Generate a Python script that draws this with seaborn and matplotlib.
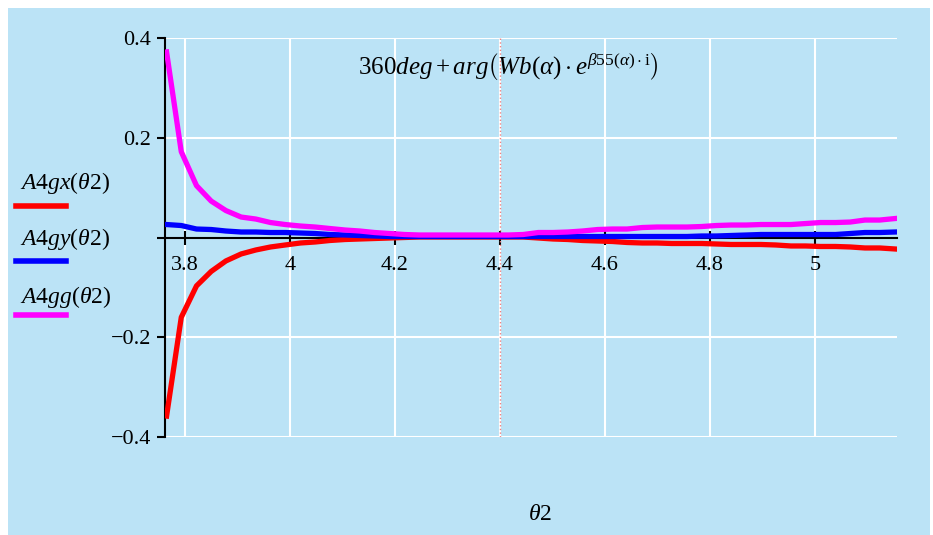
import numpy as np
import pandas as pd
import matplotlib.pyplot as plt
import seaborn as sns
from matplotlib.patches import Rectangle
from matplotlib.lines import Line2D

# theta2 sample points
theta2 = [3.765, 3.793, 3.822, 3.850, 3.878, 3.907, 3.935, 3.963, 3.991, 4.020,
          4.048, 4.076, 4.105, 4.133, 4.161, 4.190, 4.218, 4.246, 4.274, 4.303,
          4.331, 4.359, 4.388, 4.416, 4.444, 4.473, 4.501, 4.529, 4.557, 4.586,
          4.614, 4.642, 4.671, 4.699, 4.727, 4.756, 4.784, 4.812, 4.840, 4.869,
          4.897, 4.925, 4.954, 4.982, 5.010, 5.039, 5.067, 5.095, 5.123, 5.152]

a4gx = [-0.358, -0.160, -0.097, -0.068, -0.047, -0.033, -0.025, -0.019, -0.015, -0.011,
        -0.009, -0.006, -0.004, -0.003, -0.002, -0.001, 0.000, 0.001, 0.001, 0.001,
        0.001, 0.001, 0.001, 0.001, 0.001, -0.001, -0.003, -0.004, -0.006, -0.007,
        -0.008, -0.010, -0.011, -0.011, -0.012, -0.012, -0.012, -0.013, -0.014, -0.014,
        -0.014, -0.015, -0.017, -0.017, -0.018, -0.018, -0.019, -0.021, -0.021, -0.023]

a4gy = [0.026, 0.024, 0.017, 0.016, 0.013, 0.011, 0.011, 0.010, 0.010, 0.009,
        0.008, 0.006, 0.005, 0.004, 0.003, 0.002, 0.002, 0.002, 0.002, 0.002,
        0.002, 0.002, 0.002, 0.002, 0.002, 0.002, 0.002, 0.002, 0.002, 0.002,
        0.002, 0.002, 0.002, 0.002, 0.002, 0.002, 0.003, 0.003, 0.004, 0.005,
        0.006, 0.006, 0.006, 0.006, 0.006, 0.006, 0.008, 0.010, 0.010, 0.011]

a4gg = [0.372, 0.172, 0.104, 0.073, 0.054, 0.041, 0.037, 0.030, 0.026, 0.023,
        0.021, 0.018, 0.015, 0.013, 0.010, 0.008, 0.006, 0.005, 0.005, 0.005,
        0.005, 0.005, 0.005, 0.005, 0.006, 0.010, 0.010, 0.011, 0.013, 0.016,
        0.017, 0.017, 0.020, 0.021, 0.021, 0.021, 0.022, 0.024, 0.025, 0.025,
        0.026, 0.026, 0.026, 0.028, 0.030, 0.030, 0.031, 0.035, 0.035, 0.038]

series_names = ['A4gx', 'A4gy', 'A4gg']
series_labels = [r'$A4gx(\theta2)$', r'$A4gy(\theta2)$', r'$A4gg(\theta2)$']
series_colors = ['#FF0000', '#0000FF', '#FF00FF']

x_ticks = [3.8, 4.0, 4.2, 4.4, 4.6, 4.8, 5.0]
x_labels = ['3.8', '4', '4.2', '4.4', '4.6', '4.8', '5']
y_ticks = [-0.4, -0.2, 0.0, 0.2, 0.4]
y_labels = ['\u22120.4', '\u22120.2', '', '0.2', '0.4']

df = pd.DataFrame({
    'theta2': theta2 * 3,
    'value': a4gx + a4gy + a4gg,
    'series': np.repeat(series_names, len(theta2)),
})

bg = '#BBE3F6'
plt.rcParams['font.family'] = ['Liberation Serif', 'DejaVu Serif']
plt.rcParams['mathtext.fontset'] = 'custom'
plt.rcParams['mathtext.rm'] = 'Liberation Serif'
plt.rcParams['mathtext.it'] = 'Liberation Serif:italic'

fig = plt.figure(figsize=(9.33, 5.35), dpi=100)
fig.patch.set_facecolor('white')
fig.patches.append(Rectangle((8 / 933, 0), 922 / 933, 527 / 535,
                             transform=fig.transFigure, facecolor=bg,
                             edgecolor='none', zorder=-5))

ax = fig.add_axes([165 / 933, 98 / 535, 732 / 933, 399 / 535])
ax.set_facecolor(bg)

sns.lineplot(data=df, x='theta2', y='value', hue='series', palette=series_colors,
             hue_order=series_names, linewidth=3.8, legend=False, ax=ax, zorder=3)

ax.set_xlim(3.762, 5.156)
ax.set_ylim(-0.4, 0.4)

# white grid
for xv in x_ticks:
    ax.axvline(xv, color='white', lw=1.5, zorder=1)
for yv in [-0.4, -0.2, 0.2, 0.4]:
    ax.axhline(yv, color='white', lw=1.5, zorder=1)
ax.axvline(4.4, color='#F08080', lw=1, ls=':', zorder=2)

for s in ['top', 'right']:
    ax.spines[s].set_visible(False)
ax.spines['bottom'].set_position(('data', 0))
ax.spines['bottom'].set_zorder(2)
ax.spines['left'].set_linewidth(1.5)
ax.spines['bottom'].set_linewidth(1.5)

ax.set_xticks(x_ticks)
ax.set_xticklabels(x_labels, fontsize=16)
ax.set_yticks(y_ticks)
ax.set_yticklabels(y_labels, fontsize=16)
ax.tick_params(axis='x', direction='inout', length=10, width=1.5, pad=8)
ax.tick_params(axis='y', direction='out', length=6, width=1.5, pad=4)
ax.set_xlabel('')
ax.set_ylabel('')

ax.text(0.469, 0.928, r'$360deg+arg\left(Wb(\alpha)\cdot e^{\beta55(\alpha)\cdot\mathrm{i}}\right)$',
        transform=ax.transAxes, ha='center', va='center', fontsize=18)

# legend on the left
for i, (lab, col) in enumerate(zip(series_labels, series_colors)):
    ty = [183, 239, 297][i]
    ly = [206, 261, 315][i]
    fig.text(20 / 933, 1 - ty / 535, lab, fontsize=17, ha='left', va='center')
    fig.add_artist(Line2D([16 / 933, 66 / 933], [1 - ly / 535, 1 - ly / 535],
                          color=col, lw=4, transform=fig.transFigure))

fig.text(540 / 933, 1 - 515 / 535, r'$\theta2$', fontsize=17, ha='center', va='center')

fig.savefig('out.png', dpi=100, facecolor=fig.get_facecolor())
